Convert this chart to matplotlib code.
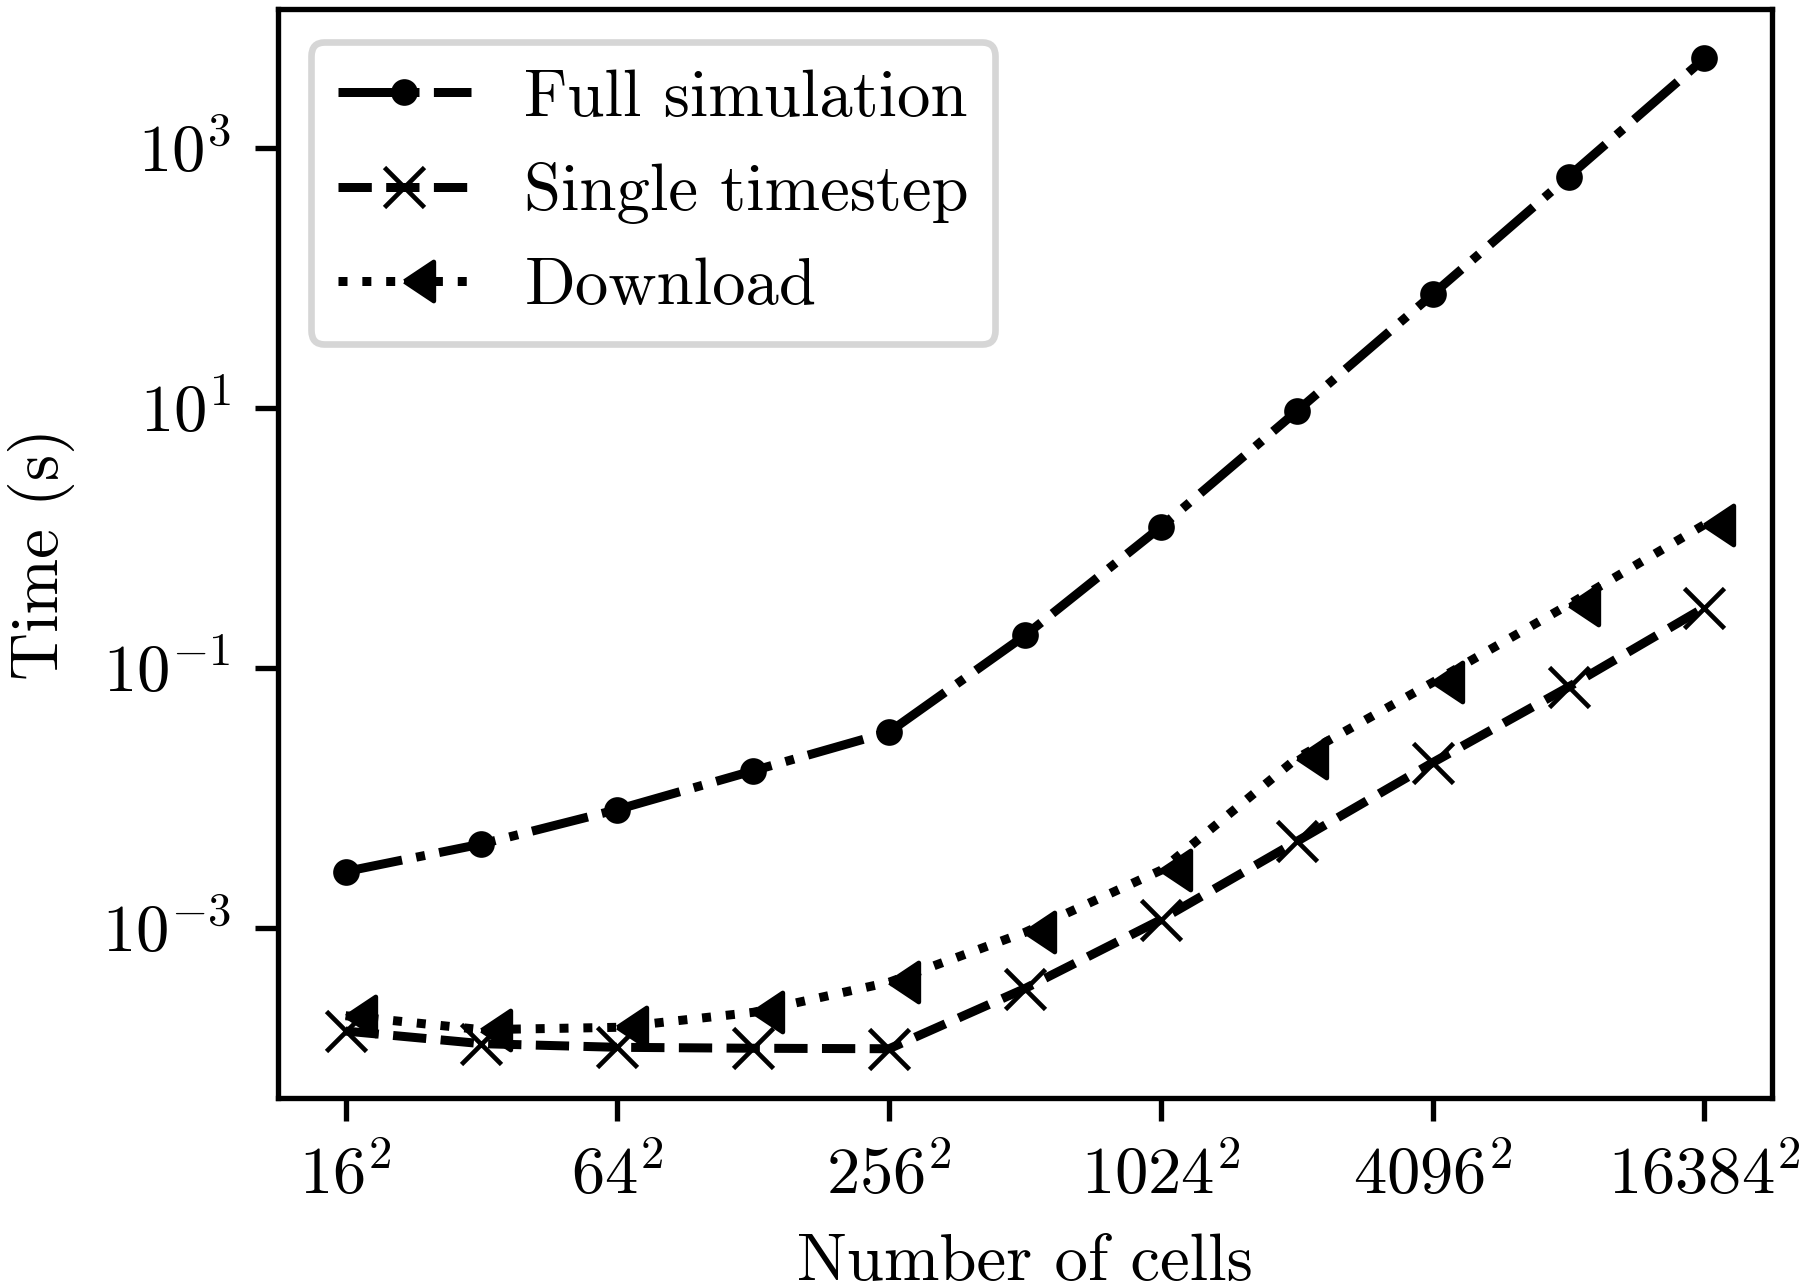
import numpy as np
import matplotlib
matplotlib.use("Agg")
import matplotlib.pyplot as plt
from matplotlib.ticker import FixedLocator, NullLocator

plt.rcParams['font.family'] = 'serif'
plt.rcParams['font.serif'] = ['cmr10']
plt.rcParams['mathtext.fontset'] = 'cm'
plt.rcParams['axes.unicode_minus'] = False
plt.rcParams['font.size'] = 10

# grid side lengths (cells = side^2)
sides = [16, 32, 64, 128, 256, 512, 1024, 2048, 4096, 8192, 16384]

# timings in seconds
full_sim = [2.7e-3, 4.4e-3, 8.1e-3, 1.61e-2, 3.2e-2, 0.177, 1.21, 9.4, 74.5, 600, 4860]
single_step = [1.6e-4, 1.28e-4, 1.2e-4, 1.18e-4, 1.17e-4, 3.4e-4, 1.15e-3, 4.6e-3, 1.86e-2, 7.1e-2, 0.29]
download = [2.1e-4, 1.64e-4, 1.71e-4, 2.23e-4, 3.8e-4, 9.2e-4, 2.76e-3, 2.01e-2, 7.7e-2, 0.305, 1.26]

xtick_sides = [16, 64, 256, 1024, 4096, 16384]
ytick_vals = [1e-3, 1e-1, 1e1, 1e3]
ytick_labels = [r'$10^{-3}$', r'$10^{-1}$', r'$10^{1}$', r'$10^{3}$']

cells = np.array(sides, dtype=float) ** 2

# left-pointing triangle with its tip on the data point
tri_left = [(0, 0), (1.5, 1), (1.5, -1), (0, 0)]

fig = plt.figure(figsize=(1803 / 480, 1283 / 480), dpi=480)
ax = fig.add_axes([0.154, 0.144, 0.829, 0.849])

lw = 1.35
ax.plot(cells, full_sim, linestyle='-.', color='k', lw=lw, marker='o',
        markersize=3.2, markeredgewidth=0.8, label='Full simulation')
ax.plot(cells, single_step, linestyle='--', color='k', lw=lw, marker='x',
        markersize=6, markeredgewidth=0.7, label='Single timestep')
ax.plot(cells, download, linestyle=':', color='k', lw=lw, marker=tri_left,
        markersize=8.8, markeredgewidth=0.7, label='Download')

ax.set_xscale('log')
ax.set_yscale('log')

ax.xaxis.set_major_locator(FixedLocator([s ** 2 for s in xtick_sides]))
ax.xaxis.set_minor_locator(NullLocator())
ax.set_xticklabels([r'$%d^2$' % s for s in xtick_sides])
ax.yaxis.set_major_locator(FixedLocator(ytick_vals))
ax.yaxis.set_minor_locator(NullLocator())
ax.set_yticklabels(ytick_labels)

ax.set_xlabel('Number of cells')
ax.set_ylabel('Time (s)')
ax.legend(loc='upper left')

fig.savefig('out.png', dpi=480)
